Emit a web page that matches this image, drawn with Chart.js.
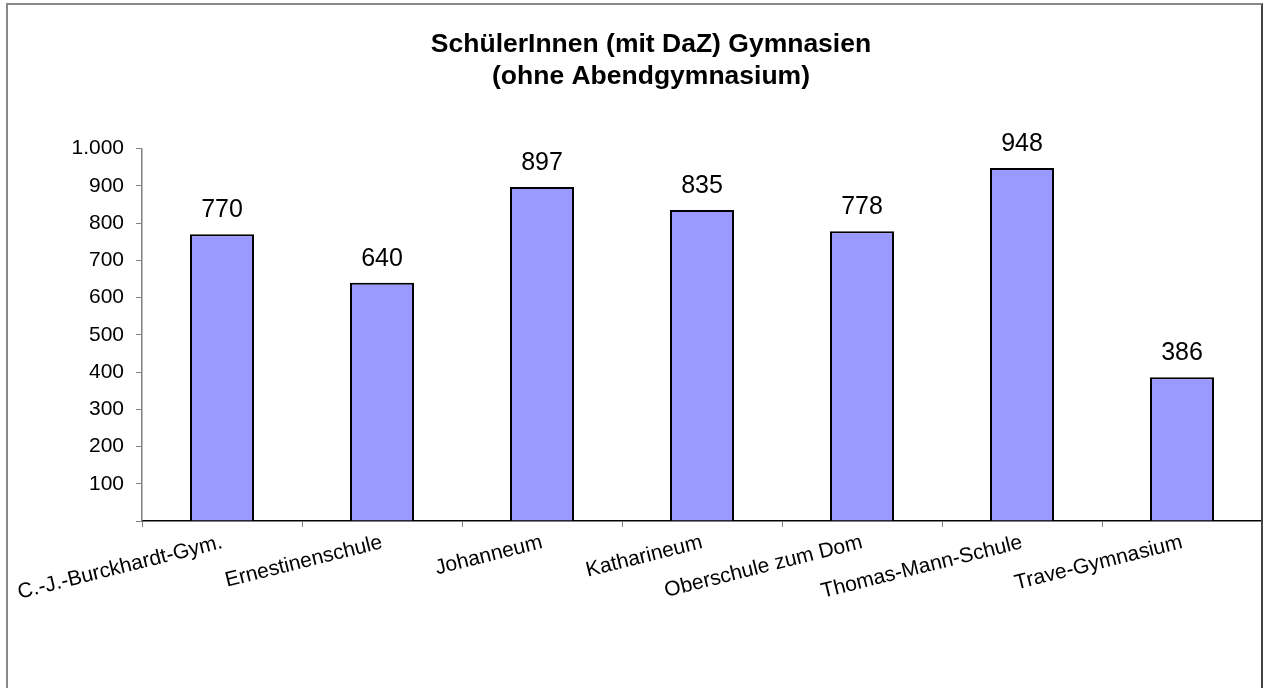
<!DOCTYPE html>
<html>
<head>
<meta charset="utf-8">
<script src="https://cdn.jsdelivr.net/npm/chart.js@4"></script>
<style>
  body { margin: 0; background: #fff; }
  #wrap { position: relative; width: 1264px; height: 688px; overflow: hidden; }
  #frame {
    position: absolute; left: 6px; top: 3px; width: 1257px; height: 720px;
    box-sizing: border-box; border: 2px solid #888; border-right-color: #444;
    pointer-events: none;
  }
</style>
</head>
<body>
<div id="wrap">
  <canvas id="myChart" width="1264" height="688"></canvas>
  <div id="frame"></div>
</div>
<script>
// categories and values
const schools = [
    'C.-J.-Burckhardt-Gym.', 'Ernestinenschule', 'Johanneum', 'Katharineum',
    'Oberschule zum Dom', 'Thomas-Mann-Schule', 'Trave-Gymnasium'
];
const pupils = [770, 640, 897, 835, 778, 948, 386];
const yTicks = [0, 100, 200, 300, 400, 500, 600, 700, 800, 900, 1000];
const titleLines = ['SchülerInnen (mit DaZ) Gymnasien', '(ohne Abendgymnasium)'];

const fontFamily = '"Liberation Sans", Arial, sans-serif';

// value labels above bars
const valueLabels = {
    id: 'valueLabels',
    afterDatasetsDraw(chart) {
        const ctx = chart.ctx;
        const meta = chart.getDatasetMeta(0);
        ctx.save();
        ctx.font = '25px ' + fontFamily;
        ctx.fillStyle = '#000';
        ctx.textAlign = 'center';
        ctx.textBaseline = 'alphabetic';
        meta.data.forEach((bar, i) => {
            ctx.fillText(pupils[i].toString(), bar.x, bar.y - 17);
        });
        ctx.restore();
    }
};

const chart = new Chart(document.getElementById('myChart'), {
    type: 'bar',
    data: {
        labels: schools,
        datasets: [{
            data: pupils,
            backgroundColor: '#9999FF',
            borderColor: '#000',
            borderWidth: 2,
            categoryPercentage: 0.8,
            barPercentage: 0.5
        }]
    },
    options: {
        responsive: false,
        animation: false,
        layout: { padding: { left: 40, right: 2, top: 20, bottom: 0 } },
        plugins: {
            legend: { display: false },
            tooltip: { enabled: false },
            title: {
                display: true,
                text: titleLines,
                color: '#000',
                font: { family: fontFamily, size: 26.5, weight: 'bold', lineHeight: 1.2 },
                padding: { top: 9, bottom: 56 }
            }
        },
        scales: {
            x: {
                afterFit: (s) => { s.height = 167; },
                grid: { offset: true, drawOnChartArea: false, tickLength: 6, color: '#808080' },
                border: { color: '#000', width: 1.5 },
                ticks: {
                    color: '#000',
                    font: { family: fontFamily, size: 21 },
                    minRotation: 14,
                    maxRotation: 14,
                    autoSkip: false,
                    padding: 3
                }
            },
            y: {
                min: 0,
                max: 1000,
                afterFit: (s) => { s.width = 102; },
                afterBuildTicks: (s) => { s.ticks = yTicks.map(v => ({ value: v })); },
                grid: { drawOnChartArea: false, tickLength: 6, color: '#808080' },
                border: { color: '#808080', width: 1.5 },
                ticks: {
                    color: '#000',
                    padding: 12,
                    font: { family: fontFamily, size: 21 },
                    callback: (v) => v === 0 ? '' : v.toLocaleString('de-DE')
                }
            }
        }
    },
    plugins: [valueLabels]
});
</script>
</body>
</html>
